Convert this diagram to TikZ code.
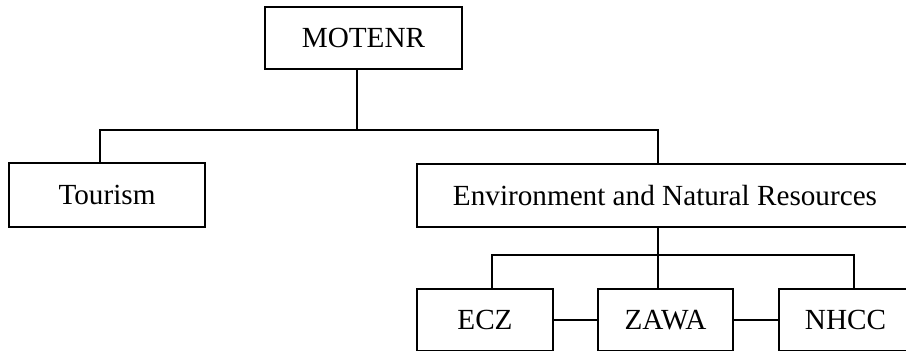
\documentclass[tikz,border=0pt]{standalone}
\usepackage{fontspec}
\setmainfont{Liberation Serif}
\begin{document}
\begin{tikzpicture}[x=1pt,y=-1pt,
  orgbox/.style={draw=black,line width=1.6pt,rectangle,inner sep=0pt,font=\fontsize{29.2}{33}\selectfont,text=black},
  conn/.style={draw=black,line width=1.6pt}]
\useasboundingbox (0,0) rectangle (906,351);
\fill[white] (0,0) rectangle (906,351);
\clip (0,0) rectangle (906,351);
\node[orgbox,minimum width=197pt,minimum height=62pt] (m) at (363.5,38) {MOTENR};
\node[orgbox,minimum width=196pt,minimum height=64pt] (t) at (107,195) {Tourism};
\node[orgbox,minimum width=496pt,minimum height=63pt] (e) at (665,195.5) {Environment and Natural Resources};
\node[orgbox,minimum width=136pt,minimum height=62pt] (ecz) at (485,320) {ECZ};
\node[orgbox,minimum width=135pt,minimum height=62pt] (zawa) at (665.5,320) {ZAWA};
\node[orgbox,minimum width=133pt,minimum height=62pt] (nhcc) at (845.5,320) {NHCC};
\coordinate (j1) at (357,130);
\coordinate (tx) at (100,0);
\coordinate (ex) at (658,0);
\coordinate (j2) at (658,255);
\coordinate (ax) at (492,0);
\coordinate (cx) at (854,0);
\draw[conn] (m.south -| j1) -- (j1);
\draw[conn] (t.north -| tx) |- (j1) -| (e.north -| ex);
\draw[conn] (e.south -| j2) -- (zawa.north -| j2);
\draw[conn] (ecz.north -| ax) |- (j2) -| (nhcc.north -| cx);
\draw[conn] (ecz.east) -- (zawa.west);
\draw[conn] (zawa.east) -- (nhcc.west);
\end{tikzpicture}
\end{document}
